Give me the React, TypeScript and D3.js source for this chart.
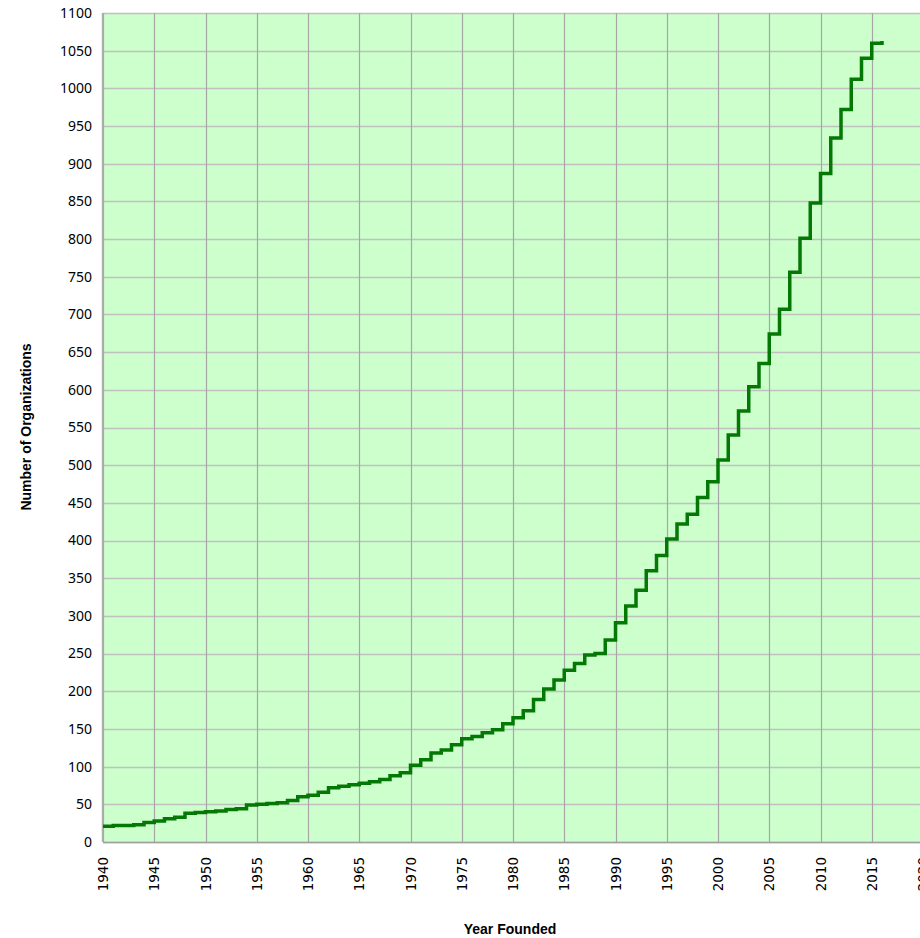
import { useEffect, useRef } from "react";
import * as d3 from "d3";

// cumulative number of organizations by founding year
const years = [
  1940, 1941, 1942, 1943, 1944, 1945, 1946, 1947, 1948, 1949,
  1950, 1951, 1952, 1953, 1954, 1955, 1956, 1957, 1958, 1959,
  1960, 1961, 1962, 1963, 1964, 1965, 1966, 1967, 1968, 1969,
  1970, 1971, 1972, 1973, 1974, 1975, 1976, 1977, 1978, 1979,
  1980, 1981, 1982, 1983, 1984, 1985, 1986, 1987, 1988, 1989,
  1990, 1991, 1992, 1993, 1994, 1995, 1996, 1997, 1998, 1999,
  2000, 2001, 2002, 2003, 2004, 2005, 2006, 2007, 2008, 2009,
  2010, 2011, 2012, 2013, 2014, 2015, 2016,
];
const counts = [
  21, 22, 22, 23, 26, 28, 31, 33, 38, 39,
  40, 41, 43, 44, 49, 50, 51, 52, 55, 60,
  62, 66, 72, 74, 76, 78, 80, 83, 88, 92,
  102, 109, 118, 122, 129, 137, 140, 145, 149, 157,
  165, 174, 189, 203, 215, 228, 237, 248, 250, 268,
  291, 313, 334, 360, 380, 402, 422, 435, 457, 478,
  507, 540, 572, 604, 635, 674, 707, 756, 801, 848,
  887, 934, 972, 1012, 1040, 1060, 1063,
];
const xTicks = d3.range(1940, 2021, 5);
const yTicks = d3.range(0, 1101, 50);

export default function App() {
  const ref = useRef<SVGSVGElement>(null);

  useEffect(() => {
    const svg = d3.select(ref.current);
    svg.selectAll("*").remove();

    const left = 103, right = 923, top = 13, bottom = 842;

    const x = d3.scaleLinear().domain([1940, 2020]).range([left, right]);
    const y = d3.scaleLinear().domain([0, 1100]).range([bottom, top]);

    svg.append("rect")
      .attr("x", left).attr("y", top)
      .attr("width", right - left).attr("height", bottom - top)
      .attr("fill", "#ccffcc");

    // horizontal grid
    svg.append("g")
      .selectAll("line")
      .data(yTicks)
      .join("line")
      .attr("x1", left).attr("x2", right)
      .attr("y1", d => Math.round(y(d)) + 0.5).attr("y2", d => Math.round(y(d)) + 0.5)
      .attr("stroke", "#c0c0c0")
      .attr("stroke-width", 1.5);

    // vertical grid
    svg.append("g")
      .selectAll("line")
      .data(xTicks)
      .join("line")
      .attr("x1", d => Math.round(x(d)) + 0.5).attr("x2", d => Math.round(x(d)) + 0.5)
      .attr("y1", top).attr("y2", bottom)
      .attr("stroke", "#a6a6a6")
      .attr("stroke-width", 1.2);

    // axis lines
    svg.append("line")
      .attr("x1", left).attr("x2", right)
      .attr("y1", bottom + 0.5).attr("y2", bottom + 0.5)
      .attr("stroke", "#a0a0a0").attr("stroke-width", 1.5);
    svg.append("line")
      .attr("x1", left - 0.5).attr("x2", left - 0.5)
      .attr("y1", top).attr("y2", bottom)
      .attr("stroke", "#b0b0b0").attr("stroke-width", 1.5);

    const line = d3.line<number>()
      .x((d, i) => x(years[i]))
      .y(d => y(d))
      .curve(d3.curveStepAfter);

    svg.append("path")
      .datum(counts)
      .attr("fill", "none")
      .attr("stroke", "#047804")
      .attr("stroke-width", 3.5)
      .attr("d", line);

    // y tick labels
    svg.append("g")
      .selectAll("text")
      .data(yTicks)
      .join("text")
      .attr("x", 92)
      .attr("y", d => y(d))
      .attr("dy", "0.35em")
      .attr("text-anchor", "end")
      .attr("font-family", "'Noto Sans', sans-serif")
      .attr("font-size", 14)
      .attr("fill", "#000")
      .text(d => d);

    // x tick labels (rotated)
    svg.append("g")
      .selectAll("text")
      .data(xTicks)
      .join("text")
      .attr("transform", d => `translate(${x(d) + 5},857) rotate(-90)`)
      .attr("text-anchor", "end")
      .attr("font-family", "'DejaVu Sans', sans-serif")
      .attr("font-size", 13.5)
      .attr("fill", "#000")
      .text(d => d);

    svg.append("text")
      .attr("transform", `translate(31,427) rotate(-90)`)
      .attr("text-anchor", "middle")
      .attr("font-family", "'Liberation Sans', Arial, sans-serif")
      .attr("font-weight", "bold")
      .attr("font-size", 14)
      .text("Number of Organizations");

    svg.append("text")
      .attr("x", 510)
      .attr("y", 934)
      .attr("text-anchor", "middle")
      .attr("font-family", "'Liberation Sans', Arial, sans-serif")
      .attr("font-weight", "bold")
      .attr("font-size", 14)
      .text("Year Founded");
  }, []);

  return (
    <svg
      ref={ref}
      width={920}
      height={938}
      style={{ position: "absolute", left: 0, top: 0, background: "#fff" }}
    />
  );
}
